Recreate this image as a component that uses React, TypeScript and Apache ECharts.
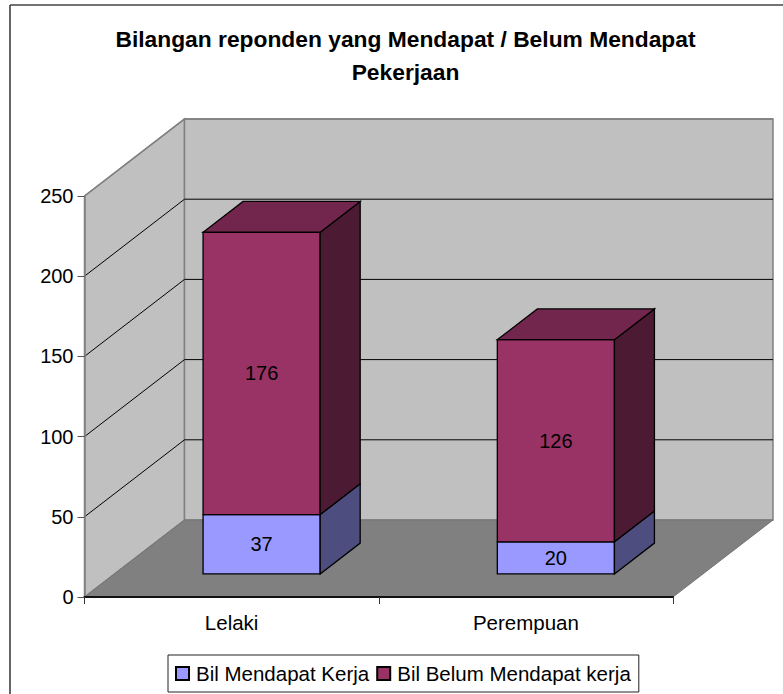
import React, { useEffect, useRef } from "react";
import * as echarts from "echarts";

const categories = ["Lelaki", "Perempuan"];
const seriesLower = { name: "Bil Mendapat Kerja", values: [37, 20] };
const seriesUpper = { name: "Bil Belum Mendapat kerja", values: [176, 126] };
const yTicks = [0, 50, 100, 150, 200, 250];
const titleText = "Bilangan reponden yang Mendapat / Belum Mendapat\nPekerjaan";

const FONT = "'Liberation Sans', Arial, sans-serif";
const DEPTH_X = 100;
const DEPTH_Y = -77;
const BAR_FRONT = 0.3;
const BAR_BACK = 0.7;
const BAR_WIDTH_RATIO = 0.398;

const shift = (p: number[], f: number) => [p[0] + DEPTH_X * f, p[1] + DEPTH_Y * f];
const poly = (points: number[][], fill: string, stroke: string, lineWidth = 1.3) => ({
  type: "polygon",
  shape: { points },
  style: { fill, stroke, lineWidth, lineJoin: "miter" },
});

function renderWalls(_params: any, api: any) {
  const band = api.size([1, 0])[0];
  const yMax = yTicks[yTicks.length - 1];
  const x0 = api.coord([0, 0])[0] - band / 2;
  const x1 = x0 + band * categories.length;
  const yBottom = api.coord([0, 0])[1];
  const yTop = api.coord([0, yMax])[1];
  const children: any[] = [];
  const wallStroke = "#808080";
  children.push(poly([[x0, yBottom], [x0, yTop], shift([x0, yTop], 1), shift([x0, yBottom], 1)], "#C0C0C0", wallStroke, 1.5));
  children.push(poly([shift([x0, yBottom], 1), shift([x0, yTop], 1), shift([x1, yTop], 1), shift([x1, yBottom], 1)], "#C0C0C0", wallStroke, 1.5));
  children.push(poly([[x0, yBottom], [x1, yBottom], shift([x1, yBottom], 1), shift([x0, yBottom], 1)], "#808080", "#757575", 1));
  yTicks.slice(1, -1).forEach((t) => {
    const y = api.coord([0, t])[1];
    children.push({
      type: "polyline",
      shape: { points: [[x0, y], shift([x0, y], 1), shift([x1, y], 1)] },
      style: { fill: "none", stroke: "#000", lineWidth: 1 },
    });
  });
  const topBack = api.coord([0, yMax])[1];
  children.push({
    type: "polyline",
    shape: { points: [[x0, topBack], shift([x0, topBack], 1), shift([x1, topBack], 1)] },
    style: { fill: "none", stroke: wallStroke, lineWidth: 1.5 },
  });
  return { type: "group", children };
}

const makeBar = (base: number[], colors: { front: string; side: string; top?: string }) =>
  function renderBar(_params: any, api: any) {
    const idx = api.value(0);
    const val = api.value(1);
    const start = base[idx];
    const end = start + val;
    const band = api.size([1, 0])[0];
    const w = band * BAR_WIDTH_RATIO;
    const bot = api.coord([idx, start]);
    const top = api.coord([idx, end]);
    const fl = bot[0] - w / 2;
    const fr = bot[0] + w / 2;
    const fb = BAR_BACK - BAR_FRONT;
    const bl = shift([fl, bot[1]], BAR_FRONT);
    const br = shift([fr, bot[1]], BAR_FRONT);
    const tl = shift([fl, top[1]], BAR_FRONT);
    const tr = shift([fr, top[1]], BAR_FRONT);
    const children: any[] = [
      poly([bl, br, tr, tl], colors.front, "#000"),
      poly([br, [br[0] + DEPTH_X * fb, br[1] + DEPTH_Y * fb], [tr[0] + DEPTH_X * fb, tr[1] + DEPTH_Y * fb], tr], colors.side, "#000"),
    ];
    if (colors.top) {
      children.push(
        poly([tl, tr, [tr[0] + DEPTH_X * fb, tr[1] + DEPTH_Y * fb], [tl[0] + DEPTH_X * fb, tl[1] + DEPTH_Y * fb]], colors.top, "#000"),
      );
    }
    children.push({
      type: "text",
      style: {
        text: String(val),
        x: (bl[0] + br[0]) / 2,
        y: (bl[1] + tl[1]) / 2,
        align: "center",
        verticalAlign: "middle",
        fill: "#000",
        font: `20px ${FONT}`,
      },
    });
    return { type: "group", children };
  };

export default function App() {
  const ref = useRef<HTMLDivElement>(null);
  useEffect(() => {
    const chart = echarts.init(ref.current!, undefined, { renderer: "svg" });
    chart.setOption({
      animation: false,
      backgroundColor: "#fff",
      title: {
        text: titleText,
        left: 400.5,
        top: 17,
        textAlign: "center",
        textStyle: { fontFamily: FONT, fontWeight: "bold", fontSize: 22.8, lineHeight: 33, color: "#000" },
      },
      grid: { left: 84.5, top: 196, width: 588.5, height: 401 },
      xAxis: {
        type: "category",
        data: categories,
        axisLine: { lineStyle: { color: "#111", width: 2 } },
        axisTick: { show: true, length: 7, lineStyle: { color: "#333", width: 1 } },
        axisLabel: { fontFamily: FONT, fontSize: 20.5, color: "#000", margin: 15 },
        z: 5,
      },
      yAxis: {
        type: "value",
        min: 0,
        max: 250,
        interval: 50,
        axisLine: { show: true, lineStyle: { color: "#808080", width: 1.5 } },
        axisTick: { show: true, length: 7, lineStyle: { color: "#555", width: 1 } },
        axisLabel: { fontFamily: FONT, fontSize: 20, color: "#000", margin: 11, padding: [4, 0, 0, 0] },
        splitLine: { show: false },
        z: 5,
      },
      legend: {
        left: 168,
        top: 655,
        orient: "horizontal",
        data: [seriesLower.name, seriesUpper.name],
        backgroundColor: "#fff",
        borderColor: "#222",
        borderWidth: 1,
        padding: [8, 8, 8, 7],
        itemGap: 7,
        itemWidth: 13,
        itemHeight: 13,
        icon: "rect",
        textStyle: { fontFamily: FONT, fontSize: 20.5, color: "#000", padding: [0, 0, 0, 2] },
      },
      graphic: [
        { type: "line", shape: { x1: 10, y1: 5, x2: 10, y2: 694 }, style: { stroke: "#333", lineWidth: 1.5 }, silent: true },
        { type: "line", shape: { x1: 10, y1: 5, x2: 783, y2: 5 }, style: { stroke: "#444", lineWidth: 1.5 }, silent: true },
      ],
      series: [
        {
          name: "walls",
          type: "custom",
          coordinateSystem: "cartesian2d",
          renderItem: renderWalls,
          data: [[0, 0]],
          z: 1,
          silent: true,
          clip: false,
        },
        {
          name: seriesLower.name,
          type: "custom",
          coordinateSystem: "cartesian2d",
          renderItem: makeBar([0, 0], { front: "#9999FF", side: "#4D4D80" }),
          data: seriesLower.values.map((v, i) => [i, v]),
          itemStyle: { color: "#9999FF", borderColor: "#000", borderWidth: 1.3 },
          z: 2,
          clip: false,
        },
        {
          name: seriesUpper.name,
          type: "custom",
          coordinateSystem: "cartesian2d",
          renderItem: makeBar(seriesLower.values, { front: "#993366", side: "#4D1A33", top: "#73264D" }),
          data: seriesUpper.values.map((v, i) => [i, v]),
          itemStyle: { color: "#993366", borderColor: "#000", borderWidth: 1.3 },
          z: 3,
          clip: false,
        },
      ],
    });
    return () => chart.dispose();
  }, []);
  return <div ref={ref} style={{ position: "fixed", left: 0, top: 0, width: 783, height: 694 }} />;
}
